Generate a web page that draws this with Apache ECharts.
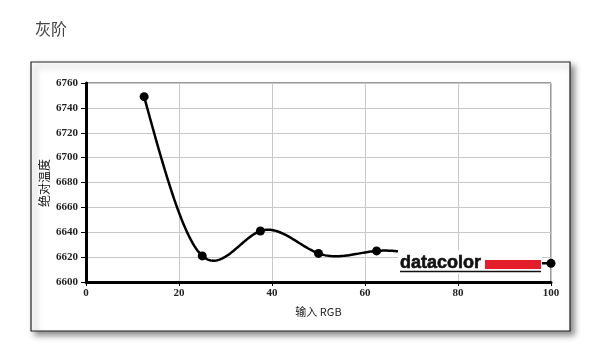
<!DOCTYPE html>
<html>
<head>
<meta charset="utf-8">
<script src="https://cdn.jsdelivr.net/npm/echarts@6/dist/echarts.min.js"></script>
<style>
html,body{margin:0;padding:0;background:#fff;}
#c{width:600px;height:357px;}
</style>
</head>
<body>
<div id="c"></div>
<script>
const titleText = '灰阶';
const xName = '输入 RGB';
const yName = '绝对温度';
const inputRGB = [12.5, 25, 37.5, 50, 62.5, 75, 87.5, 100];
const absTemp = [6749, 6621, 6641, 6623, 6625, 6620, 6616, 6615];
const xTicks = [0, 20, 40, 60, 80, 100];
const yTicks = [6600, 6620, 6640, 6660, 6680, 6700, 6720, 6740, 6760];

// natural cubic spline through the data points (used only to draw the curve shape)
function naturalSpline(xs, ys) {
  const n = xs.length;
  const h = [], M = new Array(n).fill(0);
  for (let i = 0; i < n - 1; i++) h.push(xs[i + 1] - xs[i]);
  const sub = [], diag = [], sup = [], rhs = [];
  for (let i = 1; i < n - 1; i++) {
    sub.push(h[i - 1]); diag.push(2 * (h[i - 1] + h[i])); sup.push(h[i]);
    rhs.push(6 * ((ys[i + 1] - ys[i]) / h[i] - (ys[i] - ys[i - 1]) / h[i - 1]));
  }
  const m = diag.length;
  for (let i = 1; i < m; i++) {
    const w = sub[i] / diag[i - 1];
    diag[i] -= w * sup[i - 1];
    rhs[i] -= w * rhs[i - 1];
  }
  const sol = new Array(m);
  sol[m - 1] = rhs[m - 1] / diag[m - 1];
  for (let i = m - 2; i >= 0; i--) sol[i] = (rhs[i] - sup[i] * sol[i + 1]) / diag[i];
  for (let i = 0; i < m; i++) M[i + 1] = sol[i];
  return function (x) {
    let i = 0;
    while (i < n - 2 && x > xs[i + 1]) i++;
    const t0 = xs[i + 1] - x, t1 = x - xs[i], hi = h[i];
    return M[i] * t0 * t0 * t0 / (6 * hi) + M[i + 1] * t1 * t1 * t1 / (6 * hi)
      + (ys[i] / hi - M[i] * hi / 6) * t0 + (ys[i + 1] / hi - M[i + 1] * hi / 6) * t1;
  };
}
const spline = naturalSpline(inputRGB, absTemp);

const chart = echarts.init(document.getElementById('c'), null, {renderer: 'canvas'});
const labelFont = {fontFamily: 'Liberation Serif', fontWeight: 'bold', fontSize: 11, color: '#222'};
chart.setOption({
  backgroundColor: '#fff',
  animation: false,
  title: {
    text: titleText, left: 30, top: 16,
    textStyle: {fontFamily: 'Noto Sans CJK SC', fontWeight: 'normal', fontSize: 16, color: '#444'}
  },
  graphic: {
    elements: [
      {type: 'rect', z: -10, shape: {x: 31, y: 62, width: 539, height: 269},
       style: {fill: '#fff', stroke: '#222', lineWidth: 1.2, shadowBlur: 6, shadowOffsetX: 4, shadowOffsetY: 4, shadowColor: 'rgba(0,0,0,0.45)'}},
      {type: 'text', z: 50, x: 44, y: 183, rotation: Math.PI / 2,
       style: {text: yName, fontFamily: 'Noto Sans CJK SC', fontSize: 12, fill: '#111', align: 'center', verticalAlign: 'middle'}},
      {type: 'rect', z: 100, shape: {x: 398, y: 250, width: 144, height: 24}, style: {fill: '#fff'}},
      {type: 'text', z: 101, x: 400, y: 272, style: {text: 'datacolor', fontFamily: 'Liberation Sans', fontWeight: 'bold', fontSize: 18, fill: '#111', stroke: '#111', lineWidth: 0.6, verticalAlign: 'bottom'}},
      {type: 'rect', z: 101, shape: {x: 485, y: 260, width: 56, height: 9}, style: {fill: '#e31e2a'}},
      {type: 'line', z: 101, shape: {x1: 400, y1: 271.5, x2: 541, y2: 271.5}, style: {stroke: '#111', lineWidth: 1.5}}
    ]
  },
  grid: {left: 86, top: 83, right: 49, bottom: 75, show: true, borderColor: '#333', borderWidth: 1, containLabel: false},
  xAxis: {
    type: 'value', min: xTicks[0], max: xTicks[xTicks.length - 1], interval: 20,
    name: xName, nameLocation: 'middle', nameGap: 24,
    nameTextStyle: {fontFamily: 'Noto Sans CJK SC', fontSize: 11, color: '#222'},
    axisLine: {show: true, lineStyle: {color: '#000', width: 3}},
    axisTick: {show: true, length: 4, lineStyle: {color: '#000'}},
    axisLabel: Object.assign({margin: 6, formatter: v => String(v)}, labelFont),
    splitLine: {show: true, lineStyle: {color: '#c8c8c8', width: 1}}
  },
  yAxis: {
    type: 'value', min: yTicks[0], max: yTicks[yTicks.length - 1], interval: 20,
    axisLine: {show: true, lineStyle: {color: '#000', width: 3}},
    axisTick: {show: true, length: 5, lineStyle: {color: '#000'}},
    axisLabel: Object.assign({margin: 8, formatter: v => String(v)}, labelFont),
    splitLine: {show: true, lineStyle: {color: '#c8c8c8', width: 1}}
  },
  series: [
    {
      type: 'custom',
      data: [[inputRGB[0], absTemp[0]]],
      z: 5,
      silent: true,
      renderItem: function (params, api) {
        const x0 = inputRGB[0], x1 = inputRGB[inputRGB.length - 1];
        const pts = [];
        const steps = 300;
        for (let k = 0; k <= steps; k++) {
          const x = x0 + (x1 - x0) * k / steps;
          pts.push(api.coord([x, spline(x)]));
        }
        return {type: 'polyline', shape: {points: pts}, style: {stroke: '#000', lineWidth: 2.5, fill: null, lineJoin: 'round'}};
      }
    },
    {
      type: 'scatter',
      data: inputRGB.map((x, i) => [x, absTemp[i]]),
      symbol: 'circle', symbolSize: 9,
      itemStyle: {color: '#000', opacity: 1},
      z: 6
    }
  ]
});
</script>
</body>
</html>
